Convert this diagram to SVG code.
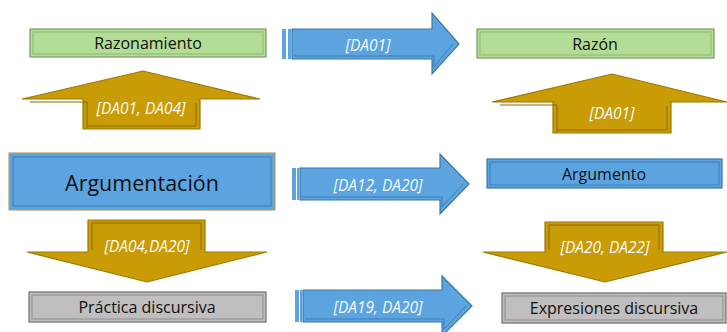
<svg xmlns="http://www.w3.org/2000/svg" width="727" height="332" viewBox="0 0 727 332">
<defs>
<style>
.box{stroke-width:1.2}
.green{fill:#b3dc97;stroke:#7a9a66}
.blue{fill:#5ca4e0;stroke:#3d77a8}
.gray{fill:#c0bebe;stroke:#6f6f6f}
.inner{fill:none;stroke-width:1}
.ginner{stroke:#8fb577}
.binner{stroke:#3f7fb8}
.yinner{stroke:#8a6b05}
.gyinner{stroke:#8e8c8c}
.gold{fill:#c99c05;stroke:#9c7a07;stroke-width:1.2}
.barrow{fill:#5ca4e0;stroke:#3d77a8;stroke-width:1.2}
.t{font-family:"Open Sans","Liberation Sans",sans-serif;fill:#111111;text-anchor:middle;dominant-baseline:central}
.l{font-family:"Open Sans","Liberation Sans",sans-serif;fill:#f4f8fc;font-style:italic;text-anchor:middle;dominant-baseline:central;font-size:15.5px}
</style>
</defs>
<g id="connectors">
  <g id="arrow-up-left">
    <polygon class="gold" points="143,71 260,99 200,99 200,129 83,129 83,99 22,99"/>
    <polyline class="inner yinner" points="87,128 87,102 30,102"/>
    <polyline class="inner yinner" points="196,103 196,126 87,126"/>
    <text class="l" x="141" y="108">[DA01, DA04]</text>
  </g>
  <g id="arrow-up-right">
    <polygon class="gold" points="612,74 727,102 671,102 671,133 553,133 553,102 492,102"/>
    <polyline class="inner yinner" points="557,132 557,105 500,105"/>
    <polyline class="inner yinner" points="667,106 667,130 557,130"/>
    <text class="l" x="612" y="113">[DA01]</text>
  </g>
  <g id="arrow-down-left">
    <polygon class="gold" points="88,220 205,220 205,252 267,252 147,282 27,252 88,252"/>
    <polyline class="inner yinner" points="92,250 92,223 201,223 201,250"/>
    <text class="l" x="147" y="246">[DA04,DA20]</text>
  </g>
  <g id="arrow-down-right">
    <polygon class="gold" points="545,222 663,222 663,252 727,252 605,282 483,252 545,252"/>
    <polyline class="inner yinner" points="549,250 549,225 659,225 659,250"/>
    <text class="l" x="605" y="247">[DA20, DA22]</text>
  </g>
  <g id="arrow-right-1">
    <polygon class="barrow" points="292,29 432,29 432,13 459,44 432,74 432,59 292,59"/>
    <polyline class="inner binner" points="294,56 434,56 434,67 453,44"/>
    <rect x="282" y="29" width="4" height="30" fill="#5ca4e0"/>
    <rect x="288" y="29" width="3" height="30" fill="#5ca4e0"/>
    <text class="l" x="368" y="45">[DA01]</text>
  </g>
  <g id="arrow-right-2">
    <polygon class="barrow" points="300,168 440,168 440,154 469,184 440,214 440,200 300,200"/>
    <polyline class="inner binner" points="302,197 442,197 442,207 463,184"/>
    <rect x="292" y="168" width="4" height="32" fill="#5ca4e0"/>
    <rect x="297" y="168" width="2" height="32" fill="#5ca4e0"/>
    <text class="l" x="378" y="185">[DA12, DA20]</text>
  </g>
  <g id="arrow-right-3">
    <polygon class="barrow" points="303,290 442,290 442,276 472,306 442,336 442,322 303,322"/>
    <polyline class="inner binner" points="305,319 444,319 444,329 466,306"/>
    <rect x="295" y="290" width="4" height="32" fill="#5ca4e0"/>
    <rect x="300" y="290" width="2" height="32" fill="#5ca4e0"/>
    <text class="l" x="378" y="307">[DA19, DA20]</text>
  </g>
</g>
<g id="node-razonamiento">
  <rect class="box green" x="30" y="29" width="236" height="28"/>
  <rect class="inner ginner" x="33" y="32" width="230" height="22"/>
  <text class="t" x="148" y="43" font-size="16">Razonamiento</text>
</g>
<g id="node-razon">
  <rect class="box green" x="477" y="29" width="237" height="29"/>
  <rect class="inner ginner" x="480" y="32" width="231" height="23"/>
  <text class="t" x="595" y="44" font-size="16">Razón</text>
</g>
<g id="node-argumentacion">
  <rect class="box blue" x="9" y="153" width="266" height="57" style="stroke:#b8a060"/>
  <rect class="inner binner" x="13" y="157" width="258" height="49"/>
  <text class="t" x="142" y="182" font-size="21.5">Argumentación</text>
</g>
<g id="node-argumento">
  <rect class="box blue" x="487" y="159" width="235" height="29"/>
  <rect class="inner binner" x="490" y="162" width="229" height="23"/>
  <text class="t" x="604" y="174" font-size="16">Argumento</text>
</g>
<g id="node-practica">
  <rect class="box gray" x="29" y="292" width="237" height="30"/>
  <rect class="inner gyinner" x="32" y="295" width="231" height="24"/>
  <text class="t" x="147" y="307" font-size="16">Práctica discursiva</text>
</g>
<g id="node-expresiones">
  <rect class="box gray" x="502" y="293" width="224" height="30"/>
  <rect class="inner gyinner" x="505" y="296" width="218" height="24"/>
  <text class="t" x="614" y="308" font-size="16">Expresiones discursiva</text>
</g>
</svg>
